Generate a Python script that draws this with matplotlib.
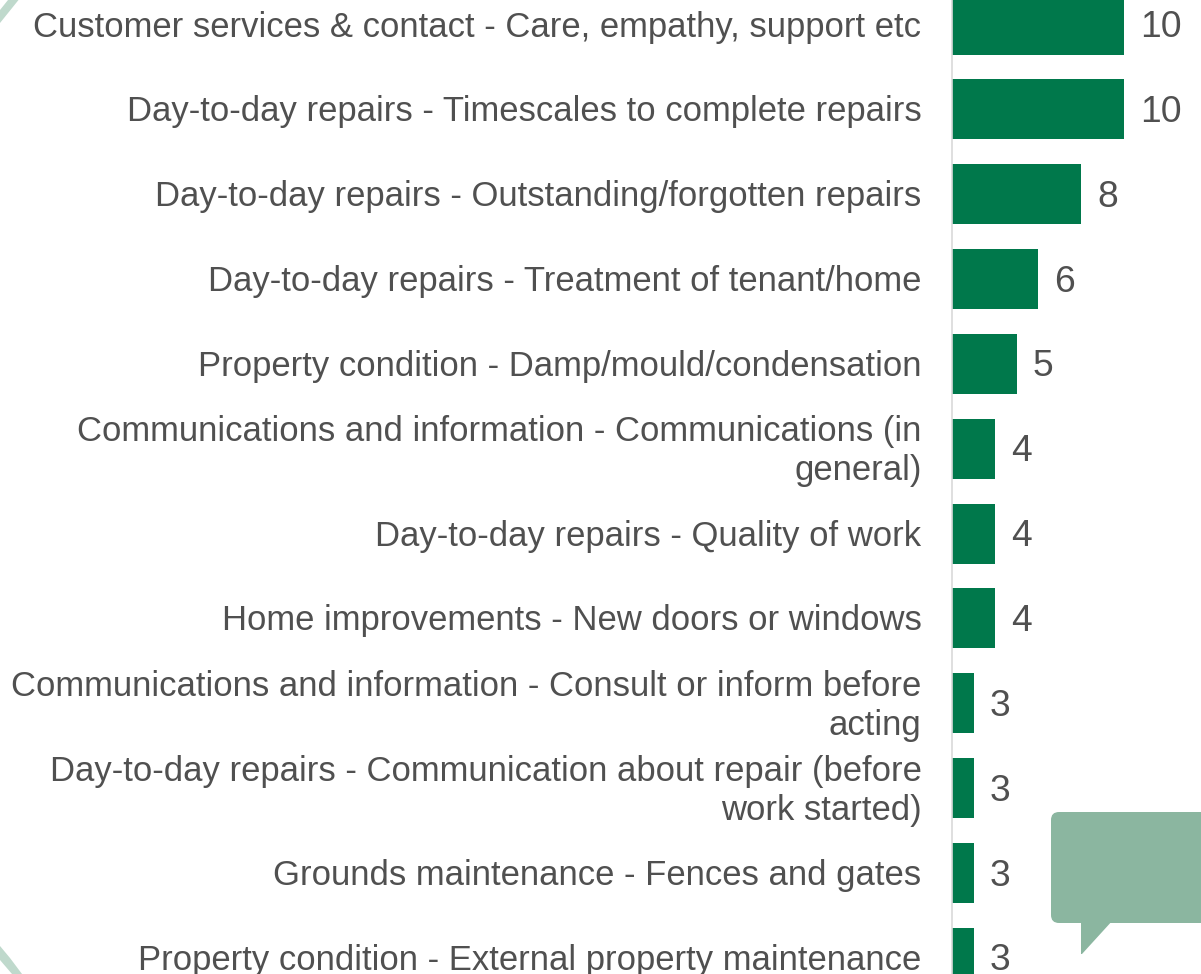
import matplotlib
matplotlib.use("Agg")
import matplotlib.pyplot as plt
from matplotlib.patches import FancyBboxPatch, Polygon
from matplotlib.transforms import ScaledTranslation

W, H = 1201, 974
categories = [
    "Customer services & contact - Care, empathy, support etc",
    "Day-to-day repairs - Timescales to complete repairs",
    "Day-to-day repairs - Outstanding/forgotten repairs",
    "Day-to-day repairs - Treatment of tenant/home",
    "Property condition - Damp/mould/condensation",
    "Communications and information - Communications (in\ngeneral)",
    "Day-to-day repairs - Quality of work",
    "Home improvements - New doors or windows",
    "Communications and information - Consult or inform before\nacting",
    "Day-to-day repairs - Communication about repair (before\nwork started)",
    "Grounds maintenance - Fences and gates",
    "Property condition - External property maintenance",
]
values = [10, 10, 8, 6, 5, 4, 4, 4, 3, 3, 3, 3]

plt.rcParams["font.family"] = ["Liberation Sans", "DejaVu Sans"]
TEXT = "#505050"
fs = 24.9
fs_val = 26.8

fig = plt.figure(figsize=(W / 100, H / 100), dpi=100, facecolor="white")

# decoration layer in pixel coordinates
deco = fig.add_axes([0, 0, 1, 1], zorder=3)
deco.set_xlim(0, W)
deco.set_ylim(H, 0)
deco.axis("off")
deco.patch.set_alpha(0)
arc = "#bfd9cc"
deco.add_patch(Polygon([(8, 0), (18.5, 0), (0, 23), (0, 10)], fc=arc, ec="none"))
deco.add_patch(Polygon([(0, 946), (10, 958), (22, 974), (12, 974), (0, 960)], fc=arc, ec="none"))
bubble = "#8bb6a0"
deco.add_patch(FancyBboxPatch((1059, 820), 160, 95, boxstyle="round,pad=8,rounding_size=8",
                              fc=bubble, ec="none", clip_on=True))
deco.add_patch(Polygon([(1081, 920), (1113, 920), (1082, 954), (1081, 954)], fc=bubble, ec="none"))

# chart
x0, px_per_unit = 952.0, 21.55
y0, px_per_row = 24.5, 84.85
ax = fig.add_axes([x0 / W, 0, (W - x0) / W, 1], zorder=2)
ax.patch.set_alpha(0)
ax.set_xlim(2, 2 + (W - x0) / px_per_unit)
ax.set_ylim((H - y0) / px_per_row, -y0 / px_per_row)
pos = list(range(len(categories)))
ax.barh(pos, values, left=0, height=60 / px_per_row, color="#00784b")
for p, v in zip(pos, values):
    ax.annotate(str(v), (v, p), xytext=(16 * 0.72, -3 * 0.72), textcoords="offset points",
                va="center", ha="left", color=TEXT, fontsize=fs_val)
for s in ["top", "right", "bottom"]:
    ax.spines[s].set_visible(False)
ax.spines["left"].set_color("#d9d9d9")
ax.spines["left"].set_linewidth(1.2)
ax.xaxis.set_visible(False)
ax.set_yticks(pos)
ax.set_yticklabels(categories, fontsize=fs, color=TEXT, ha="right", va="center",
                   multialignment="right", linespacing=1.22)
ax.tick_params(axis="y", length=0, pad=22)
shift = ScaledTranslation(0, -2.5 / 72 * 0.72, fig.dpi_scale_trans)
for t in ax.get_yticklabels():
    t.set_transform(t.get_transform() + shift)

fig.savefig("out.png", dpi=100)
